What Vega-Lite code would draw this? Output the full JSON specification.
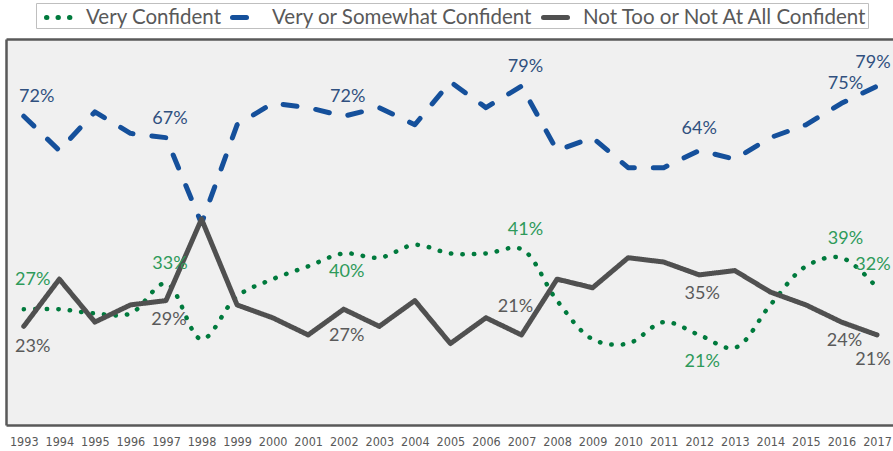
{
  "$schema": "https://vega.github.io/schema/vega-lite/v6.json",
  "autosize": {"type": "none"},
  "padding": {"left": 6, "top": 39, "right": 0, "bottom": 26},
  "width": 887,
  "height": 386,
  "background": "white",
  "config": {"view": {"fill": "#F0F0F0", "stroke": null}},
  "data": {"values": [
    {"year": 1993, "series": "Very Confident", "value": 27},
    {"year": 1994, "series": "Very Confident", "value": 27},
    {"year": 1995, "series": "Very Confident", "value": 26},
    {"year": 1996, "series": "Very Confident", "value": 26},
    {"year": 1997, "series": "Very Confident", "value": 33},
    {"year": 1998, "series": "Very Confident", "value": 20},
    {"year": 1999, "series": "Very Confident", "value": 30},
    {"year": 2000, "series": "Very Confident", "value": 34},
    {"year": 2001, "series": "Very Confident", "value": 37},
    {"year": 2002, "series": "Very Confident", "value": 40},
    {"year": 2003, "series": "Very Confident", "value": 39},
    {"year": 2004, "series": "Very Confident", "value": 42},
    {"year": 2005, "series": "Very Confident", "value": 40},
    {"year": 2006, "series": "Very Confident", "value": 40},
    {"year": 2007, "series": "Very Confident", "value": 41},
    {"year": 2008, "series": "Very Confident", "value": 29},
    {"year": 2009, "series": "Very Confident", "value": 20},
    {"year": 2010, "series": "Very Confident", "value": 19},
    {"year": 2011, "series": "Very Confident", "value": 24},
    {"year": 2012, "series": "Very Confident", "value": 21},
    {"year": 2013, "series": "Very Confident", "value": 18},
    {"year": 2014, "series": "Very Confident", "value": 28},
    {"year": 2015, "series": "Very Confident", "value": 37},
    {"year": 2016, "series": "Very Confident", "value": 39},
    {"year": 2017, "series": "Very Confident", "value": 32},
    {"year": 1993, "series": "Very or Somewhat Confident", "value": 72},
    {"year": 1994, "series": "Very or Somewhat Confident", "value": 64},
    {"year": 1995, "series": "Very or Somewhat Confident", "value": 73},
    {"year": 1996, "series": "Very or Somewhat Confident", "value": 68},
    {"year": 1997, "series": "Very or Somewhat Confident", "value": 67},
    {"year": 1998, "series": "Very or Somewhat Confident", "value": 47},
    {"year": 1999, "series": "Very or Somewhat Confident", "value": 70},
    {"year": 2000, "series": "Very or Somewhat Confident", "value": 75},
    {"year": 2001, "series": "Very or Somewhat Confident", "value": 74},
    {"year": 2002, "series": "Very or Somewhat Confident", "value": 72},
    {"year": 2003, "series": "Very or Somewhat Confident", "value": 74},
    {"year": 2004, "series": "Very or Somewhat Confident", "value": 70},
    {"year": 2005, "series": "Very or Somewhat Confident", "value": 80},
    {"year": 2006, "series": "Very or Somewhat Confident", "value": 74},
    {"year": 2007, "series": "Very or Somewhat Confident", "value": 79},
    {"year": 2008, "series": "Very or Somewhat Confident", "value": 64},
    {"year": 2009, "series": "Very or Somewhat Confident", "value": 67},
    {"year": 2010, "series": "Very or Somewhat Confident", "value": 60},
    {"year": 2011, "series": "Very or Somewhat Confident", "value": 60},
    {"year": 2012, "series": "Very or Somewhat Confident", "value": 64},
    {"year": 2013, "series": "Very or Somewhat Confident", "value": 62},
    {"year": 2014, "series": "Very or Somewhat Confident", "value": 67},
    {"year": 2015, "series": "Very or Somewhat Confident", "value": 70},
    {"year": 2016, "series": "Very or Somewhat Confident", "value": 75},
    {"year": 2017, "series": "Very or Somewhat Confident", "value": 79},
    {"year": 1993, "series": "Not Too or Not At All Confident", "value": 23},
    {"year": 1994, "series": "Not Too or Not At All Confident", "value": 34},
    {"year": 1995, "series": "Not Too or Not At All Confident", "value": 24},
    {"year": 1996, "series": "Not Too or Not At All Confident", "value": 28},
    {"year": 1997, "series": "Not Too or Not At All Confident", "value": 29},
    {"year": 1998, "series": "Not Too or Not At All Confident", "value": 48},
    {"year": 1999, "series": "Not Too or Not At All Confident", "value": 28},
    {"year": 2000, "series": "Not Too or Not At All Confident", "value": 25},
    {"year": 2001, "series": "Not Too or Not At All Confident", "value": 21},
    {"year": 2002, "series": "Not Too or Not At All Confident", "value": 27},
    {"year": 2003, "series": "Not Too or Not At All Confident", "value": 23},
    {"year": 2004, "series": "Not Too or Not At All Confident", "value": 29},
    {"year": 2005, "series": "Not Too or Not At All Confident", "value": 19},
    {"year": 2006, "series": "Not Too or Not At All Confident", "value": 25},
    {"year": 2007, "series": "Not Too or Not At All Confident", "value": 21},
    {"year": 2008, "series": "Not Too or Not At All Confident", "value": 34},
    {"year": 2009, "series": "Not Too or Not At All Confident", "value": 32},
    {"year": 2010, "series": "Not Too or Not At All Confident", "value": 39},
    {"year": 2011, "series": "Not Too or Not At All Confident", "value": 38},
    {"year": 2012, "series": "Not Too or Not At All Confident", "value": 35},
    {"year": 2013, "series": "Not Too or Not At All Confident", "value": 36},
    {"year": 2014, "series": "Not Too or Not At All Confident", "value": 31},
    {"year": 2015, "series": "Not Too or Not At All Confident", "value": 28},
    {"year": 2016, "series": "Not Too or Not At All Confident", "value": 24},
    {"year": 2017, "series": "Not Too or Not At All Confident", "value": 21}
  ]},
  "transform": [
    {"calculate": "datum.value + '%'", "as": "label"},
    {"calculate": "datum.series + '|' + datum.year", "as": "key"}
  ],
  "encoding": {
    "x": {"field": "year", "type": "quantitative",
      "scale": {"domain": [1992.5, 2017.45], "nice": false, "zero": false},
      "axis": {"values": [1993,1994,1995,1996,1997,1998,1999,2000,2001,2002,2003,2004,2005,2006,2007,2008,2009,2010,2011,2012,2013,2014,2015,2016,2017],
        "format": "d", "title": null, "ticks": false, "grid": false,
        "domain": true, "domainColor": "#595959", "domainWidth": 2.5,
        "labelFont": "Liberation Sans Narrow, DejaVu Sans Condensed, Roboto", "labelFontSize": 12.5, "labelColor": "#595959",
        "labelPadding": 10, "labelFlush": false, "labelOverlap": false}},
    "y": {"field": "value", "type": "quantitative",
      "scale": {"domain": [0, 90], "nice": false},
      "axis": {"values": [90], "grid": true, "gridColor": "#595959", "gridWidth": 2.5,
        "labels": false, "ticks": false, "title": null,
        "domain": true, "domainColor": "#595959", "domainWidth": 2.5}}
  },
  "layer": [
    {
      "transform": [{"filter": "datum.series == 'Very Confident'"}],
      "mark": {"type": "line", "interpolate": "catmull-rom", "strokeWidth": 4.5, "strokeCap": "round"},
      "encoding": {
        "color": {"field": "series", "type": "nominal",
          "scale": {"domain": ["Very Confident", "Very or Somewhat Confident", "Not Too or Not At All Confident"], "range": ["#007A3D", "#15509B", "#505050"]},
          "legend": {"orient": "none", "legendX": 30, "legendY": -36, "direction": "horizontal", "columns": 3, "title": null,
            "symbolType": "stroke", "symbolSize": 576, "symbolStrokeWidth": 5, "symbolOffset": 8,
            "labelFont": "Lato", "labelFontSize": 20.5, "labelColor": "#595959", "labelOffset": 13, "labelLimit": 400,
            "columnPadding": -8, "padding": 0, "strokeColor": "#BFBFBF", "fillColor": "white",
            "encode": {"symbols": {"update": {"strokeCap": {"value": "round"},
              "strokeDash": {"signal": "datum.value === 'Very Confident' ? [0.2, 10.4] : datum.value === 'Very or Somewhat Confident' ? [14, 19] : [1, 0]"}}}}}},
        "strokeDash": {"field": "series", "type": "nominal",
          "scale": {"domain": ["Very Confident", "Very or Somewhat Confident", "Not Too or Not At All Confident"], "range": [[0.4, 11.1], [14, 19], [1, 0]]},
          "legend": {"orient": "none", "legendX": 30, "legendY": -36, "direction": "horizontal", "columns": 3, "title": null,
            "symbolType": "stroke", "symbolSize": 576, "symbolStrokeWidth": 5, "symbolOffset": 8,
            "labelFont": "Lato", "labelFontSize": 20.5, "labelColor": "#595959", "labelOffset": 13, "labelLimit": 400,
            "columnPadding": -8, "padding": 0, "strokeColor": "#BFBFBF", "fillColor": "white",
            "encode": {"symbols": {"update": {"strokeCap": {"value": "round"},
              "strokeDash": {"signal": "datum.value === 'Very Confident' ? [0.2, 10.4] : datum.value === 'Very or Somewhat Confident' ? [14, 19] : [1, 0]"}}}}}}
      }
    },
    {
      "transform": [{"filter": "datum.series != 'Very Confident'"}],
      "mark": {"type": "line", "strokeWidth": 5, "strokeCap": "round", "strokeJoin": "round"},
      "encoding": {
        "color": {"field": "series", "type": "nominal"},
        "strokeDash": {"field": "series", "type": "nominal"}
      }
    },
    {
      "transform": [{"filter": "indexof(['Very or Somewhat Confident|1997','Very or Somewhat Confident|2002','Very or Somewhat Confident|2007','Very or Somewhat Confident|2016','Very Confident|1997','Very Confident|2007','Very Confident|2016'], datum.key) >= 0"}],
      "mark": {"type": "text", "font": "Lato", "fontSize": 18, "align": "center", "baseline": "middle", "dx": 4, "dy": -19},
      "encoding": {"text": {"field": "label"},
        "fill": {"field": "series", "type": "nominal", "scale": {"domain": ["Very Confident", "Very or Somewhat Confident", "Not Too or Not At All Confident"], "range": ["#2E9A5A", "#30507F", "#5A5A5A"]}, "legend": null}}
    },
    {
      "transform": [{"filter": "indexof(['Very or Somewhat Confident|2012'], datum.key) >= 0"}],
      "mark": {"type": "text", "font": "Lato", "fontSize": 18, "align": "center", "baseline": "middle", "dx": 0, "dy": -22},
      "encoding": {"text": {"field": "label"}, "fill": {"field": "series", "type": "nominal", "legend": null}}
    },
    {
      "transform": [{"filter": "indexof(['Very or Somewhat Confident|2017','Very Confident|2017'], datum.key) >= 0"}],
      "mark": {"type": "text", "font": "Lato", "fontSize": 18, "align": "center", "baseline": "middle", "dx": -4, "dy": -23},
      "encoding": {"text": {"field": "label"}, "fill": {"field": "series", "type": "nominal", "legend": null}}
    },
    {
      "transform": [{"filter": "indexof(['Very or Somewhat Confident|1993'], datum.key) >= 0"}],
      "mark": {"type": "text", "font": "Lato", "fontSize": 18, "align": "center", "baseline": "middle", "dx": 13, "dy": -19},
      "encoding": {"text": {"field": "label"}, "fill": {"field": "series", "type": "nominal", "legend": null}}
    },
    {
      "transform": [{"filter": "indexof(['Very Confident|1993'], datum.key) >= 0"}],
      "mark": {"type": "text", "font": "Lato", "fontSize": 18, "align": "center", "baseline": "middle", "dx": 9, "dy": -29},
      "encoding": {"text": {"field": "label"}, "fill": {"field": "series", "type": "nominal", "legend": null}}
    },
    {
      "transform": [{"filter": "indexof(['Very Confident|2002','Not Too or Not At All Confident|1997','Not Too or Not At All Confident|2012','Not Too or Not At All Confident|2016'], datum.key) >= 0"}],
      "mark": {"type": "text", "font": "Lato", "fontSize": 18, "align": "center", "baseline": "middle", "dx": 3, "dy": 19},
      "encoding": {"text": {"field": "label"}, "fill": {"field": "series", "type": "nominal", "legend": null}}
    },
    {
      "transform": [{"filter": "indexof(['Not Too or Not At All Confident|1993'], datum.key) >= 0"}],
      "mark": {"type": "text", "font": "Lato", "fontSize": 18, "align": "center", "baseline": "middle", "dx": 9, "dy": 21},
      "encoding": {"text": {"field": "label"}, "fill": {"field": "series", "type": "nominal", "legend": null}}
    },
    {
      "transform": [{"filter": "indexof(['Very Confident|2012','Not Too or Not At All Confident|2002'], datum.key) >= 0"}],
      "mark": {"type": "text", "font": "Lato", "fontSize": 18, "align": "center", "baseline": "middle", "dx": 3, "dy": 27},
      "encoding": {"text": {"field": "label"}, "fill": {"field": "series", "type": "nominal", "legend": null}}
    },
    {
      "transform": [{"filter": "indexof(['Not Too or Not At All Confident|2017'], datum.key) >= 0"}],
      "mark": {"type": "text", "font": "Lato", "fontSize": 18, "align": "center", "baseline": "middle", "dx": -4, "dy": 25},
      "encoding": {"text": {"field": "label"}, "fill": {"field": "series", "type": "nominal", "legend": null}}
    },
    {
      "transform": [{"filter": "indexof(['Not Too or Not At All Confident|2007'], datum.key) >= 0"}],
      "mark": {"type": "text", "font": "Lato", "fontSize": 18, "align": "center", "baseline": "middle", "dx": -6, "dy": -28},
      "encoding": {"text": {"field": "label"}, "fill": {"field": "series", "type": "nominal", "legend": null}}
    }
  ]
}
